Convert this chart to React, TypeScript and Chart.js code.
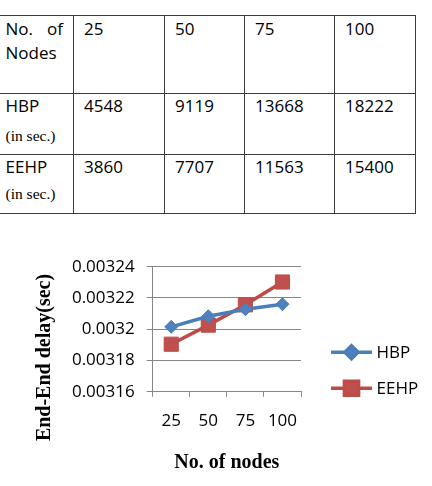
import React, { useEffect, useRef } from "react";
import { Chart, registerables } from "chart.js";
import { drawPoint } from "chart.js/helpers";

Chart.register(...registerables);

// Simulation results
const nodeCounts = [25, 50, 75, 100];
const hbpTime = [4548, 9119, 13668, 18222];
const eehpTime = [3860, 7707, 11563, 15400];
const hbpDelay = [0.0032015, 0.0032083, 0.0032128, 0.003216];
const eehpDelay = [0.0031904, 0.0032026, 0.0032156, 0.0032302];
const delayMin = 0.00316;
const delayMax = 0.00324;
const delayStep = 0.00002;

const SANS = "'Open Sans', 'Liberation Sans', sans-serif";
const SERIF = "'Liberation Serif', 'Times New Roman', serif";

// Table geometry (page pixels)
const colEdges = [-5, 73, 164, 244, 334, 415];
const rowEdges = [15, 93, 154, 213];
const rowBaselines = [36, 112.3, 173.3];
const unitBaselines = [0, 140.7, 199.3];

function ResultsTable() {
  const lineColor = "#3c3c3c";
  const parts: React.ReactNode[] = [];
  rowEdges.forEach((y, i) =>
    parts.push(
      <div
        key={"h" + i}
        style={{ position: "absolute", left: 0, top: y, width: colEdges[5] + 1, height: 1, background: lineColor }}
      />
    )
  );
  colEdges.slice(1).forEach((x, i) =>
    parts.push(
      <div
        key={"v" + i}
        style={{ position: "absolute", left: x, top: rowEdges[0], width: 1, height: rowEdges[3] - rowEdges[0] + 1, background: lineColor }}
      />
    )
  );

  const textStyle = (left: number, baseline: number): React.CSSProperties => ({
    position: "absolute",
    left,
    top: baseline - 18.6,
    fontFamily: SANS,
    fontSize: 17,
    lineHeight: "24px",
    color: "#000",
    whiteSpace: "nowrap",
  });
  const unitStyle = (baseline: number): React.CSSProperties => ({
    position: "absolute",
    left: 5.5,
    top: baseline - 13.2,
    fontFamily: SERIF,
    fontSize: 15.5,
    lineHeight: "16px",
    color: "#000",
    whiteSpace: "nowrap",
  });

  const rows: { label: string; unit?: string; values: number[] }[] = [
    { label: "No. of Nodes", values: nodeCounts },
    { label: "HBP", unit: "(in sec.)", values: hbpTime },
    { label: "EEHP", unit: "(in sec.)", values: eehpTime },
  ];

  rows.forEach((row, r) => {
    if (r === 0) {
      parts.push(
        <div
          key={"l" + r}
          style={{
            ...textStyle(5.5, rowBaselines[r]),
            whiteSpace: "normal",
            width: 57.5,
            textAlign: "justify",
          }}
        >
          {row.label}
        </div>
      );
    } else {
      parts.push(
        <div key={"l" + r} style={textStyle(5.5, rowBaselines[r])}>
          {row.label}
        </div>
      );
      parts.push(
        <div key={"u" + r} style={unitStyle(unitBaselines[r])}>
          {row.unit}
        </div>
      );
    }
    row.values.forEach((v, c) =>
      parts.push(
        <div key={"c" + r + "-" + c} style={textStyle(colEdges[c + 1] + 11, rowBaselines[r])}>
          {String(v)}
        </div>
      )
    );
  });

  return <>{parts}</>;
}

const chartDecorations = {
  id: "chartDecorations",
  afterDraw(chart: any) {
    const { ctx, chartArea: a } = chart;
    ctx.save();
    ctx.fillStyle = "#000";
    ctx.font = `bold 20px ${SERIF}`;
    ctx.textAlign = "center";
    ctx.textBaseline = "alphabetic";
    ctx.fillText("No. of nodes", (a.left + a.right) / 2, a.bottom + 76);

    ctx.save();
    ctx.translate(a.left - 108, (a.top + a.bottom) / 2 + 28.3);
    ctx.rotate(-Math.PI / 2);
    ctx.textBaseline = "middle";
    ctx.fillText("End-End delay(sec)", 0, 0);
    ctx.restore();

    chart.data.datasets.forEach((ds: any, i: number) => {
      const y = a.top + 85.6 + i * 36;
      const x0 = a.right + 30;
      ctx.strokeStyle = ds.borderColor;
      ctx.lineWidth = ds.borderWidth;
      ctx.beginPath();
      ctx.moveTo(x0, y);
      ctx.lineTo(x0 + 41, y);
      ctx.stroke();
      ctx.fillStyle = ds.pointBackgroundColor;
      ctx.strokeStyle = ds.pointBorderColor;
      drawPoint(ctx, { pointStyle: ds.pointStyle, radius: ds.pointRadius, borderWidth: 1, rotation: 0 }, x0 + 20.5, y);
      ctx.fillStyle = "#000";
      ctx.font = `17px ${SANS}`;
      ctx.textAlign = "left";
      ctx.textBaseline = "middle";
      ctx.fillText(ds.label, x0 + 45.5, y + 1);
    });
    ctx.restore();
  },
};

function DelayChart() {
  const canvasRef = useRef<HTMLCanvasElement | null>(null);

  useEffect(() => {
    if (!canvasRef.current) return;
    const chart = new Chart(canvasRef.current, {
      type: "line",
      data: {
        labels: nodeCounts.map(String),
        datasets: [
          {
            label: "HBP",
            data: hbpDelay,
            borderColor: "#4A7EBB",
            backgroundColor: "#4F81BD",
            pointBackgroundColor: "#4F81BD",
            pointBorderColor: "#4A7EBB",
            borderWidth: 3.5,
            pointStyle: "rectRot",
            pointRadius: 6.5,
            pointBorderWidth: 1,
            tension: 0,
          },
          {
            label: "EEHP",
            data: eehpDelay,
            borderColor: "#BE4B48",
            backgroundColor: "#C0504D",
            pointBackgroundColor: "#C0504D",
            pointBorderColor: "#BE4B48",
            borderWidth: 3.5,
            pointStyle: "rect",
            pointRadius: 10,
            pointBorderWidth: 1,
            tension: 0,
          },
        ],
      },
      options: {
        animation: false,
        responsive: true,
        maintainAspectRatio: false,
        layout: { padding: { top: 36.7, right: 131, left: 0, bottom: 0 } },
        plugins: { legend: { display: false }, tooltip: { enabled: false }, title: { display: false } },
        scales: {
          x: {
            type: "category",
            offset: true,
            afterFit: (s: any) => {
              s.height = 94.3;
            },
            border: { color: "#868686", width: 1 },
            grid: { offset: true, drawOnChartArea: false, drawTicks: true, tickLength: 5, color: "#868686" },
            ticks: { color: "#000", font: { family: SANS, size: 17 }, padding: 14, maxRotation: 0 },
          },
          y: {
            min: delayMin,
            max: delayMax,
            afterFit: (s: any) => {
              s.width = 152.7;
            },
            border: { color: "#868686", width: 1 },
            grid: { color: "#868686", lineWidth: 1, tickLength: 6 },
            ticks: {
              stepSize: delayStep,
              color: "#000",
              font: { family: SANS, size: 17 },
              padding: 12,
              callback: (v: any) => String(Number(Number(v).toFixed(6))),
            },
          },
        },
      },
      plugins: [chartDecorations],
    });
    return () => chart.destroy();
  }, []);

  return (
    <div style={{ position: "absolute", left: 0, top: 230, width: 432, height: 256 }}>
      <canvas ref={canvasRef} />
    </div>
  );
}

export default function App() {
  return (
    <div style={{ position: "absolute", left: 0, top: 0, width: 432, height: 486, background: "#fff", overflow: "hidden" }}>
      <ResultsTable />
      <DelayChart />
    </div>
  );
}
